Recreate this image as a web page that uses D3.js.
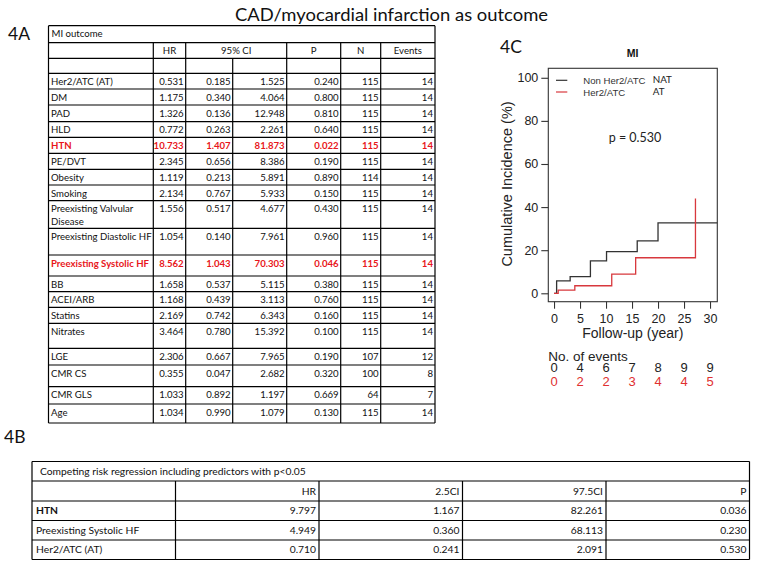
<!DOCTYPE html>
<html><head><meta charset="utf-8">
<script src="https://cdn.jsdelivr.net/npm/d3@7/dist/d3.min.js"></script>
<style>body{margin:0;background:#fff}svg{display:block}</style>
</head><body>
<svg id="fig" width="757" height="567"></svg>
<script>
// ================= DATA =================
const figureTitle = "CAD/myocardial infarction as outcome";
const panelLabels = ["4A", "4B", "4C"];

// 4A: univariable table
const miTableTitle = "MI outcome";
const miHeaders = ["HR", "95% CI", "P", "N", "Events"];
const predictors = ["Her2/ATC (AT)", "DM", "PAD", "HLD", "HTN", "PE/DVT", "Obesity", "Smoking",
  "Preexisting Valvular Disease", "Preexisting Diastolic HF", "Preexisting Systolic HF", "BB",
  "ACEI/ARB", "Statins", "Nitrates", "LGE", "CMR CS", "CMR GLS", "Age"];
const hr = [0.531, 1.175, 1.326, 0.772, 10.733, 2.345, 1.119, 2.134, 1.556, 1.054, 8.562, 1.658, 1.168, 2.169, 3.464, 2.306, 0.355, 1.033, 1.034];
const ciLow = [0.185, 0.340, 0.136, 0.263, 1.407, 0.656, 0.213, 0.767, 0.517, 0.140, 1.043, 0.537, 0.439, 0.742, 0.780, 0.667, 0.047, 0.892, 0.990];
const ciHigh = [1.525, 4.064, 12.948, 2.261, 81.873, 8.386, 5.891, 5.933, 4.677, 7.961, 70.303, 5.115, 3.113, 6.343, 15.392, 7.965, 2.682, 1.197, 1.079];
const pValue = [0.240, 0.800, 0.810, 0.640, 0.022, 0.190, 0.890, 0.150, 0.430, 0.960, 0.046, 0.380, 0.760, 0.160, 0.100, 0.190, 0.320, 0.669, 0.130];
const nPatients = [115, 115, 115, 115, 115, 115, 114, 115, 115, 115, 115, 115, 115, 115, 115, 107, 100, 64, 115];
const nEvents = [14, 14, 14, 14, 14, 14, 14, 14, 14, 14, 14, 14, 14, 14, 14, 12, 8, 7, 14];
const significant = ["HTN", "Preexisting Systolic HF"];

// 4B: competing risk regression
const crTitle = "Competing risk regression including predictors with p<0.05";
const crHeaders = ["HR", "2.5CI", "97.5CI", "P"];
const crPredictors = ["HTN", "Preexisting Systolic HF", "Her2/ATC (AT)"];
const crHR = [9.797, 4.949, 0.710];
const crLow = [1.167, 0.360, 0.241];
const crHigh = [82.261, 68.113, 2.091];
const crP = [0.036, 0.230, 0.530];
const crBold = ["HTN"];

// 4C: cumulative incidence
const plotTitle = "MI";
const groups = ["Non Her2/ATC", "Her2/ATC"];
const groupCodes = ["NAT", "AT"];
const natTime = [0, 0.5, 3.1, 7.0, 10.1, 16.0, 20.0, 31.4];
const natIncidence = [0, 5.8, 7.7, 15.0, 19.3, 24.3, 32.7, 32.7];
const atTime = [0, 0.8, 4.0, 11.1, 15.7, 27.2];
const atIncidence = [0, 1.5, 3.5, 8.9, 16.5, 44.0];
const xTicks = [0, 5, 10, 15, 20, 25, 30];
const yTicks = [0, 20, 40, 60, 80, 100];
const pText = "p = 0.530";
const xLabel = "Follow-up (year)";
const yLabel = "Cumulative Incidence (%)";
const eventsLabel = "No. of events";
const eventTimes = [0, 5, 10, 15, 20, 25, 30];
const natEventCounts = [0, 4, 6, 7, 8, 9, 9];
const atEventCounts = [0, 2, 2, 3, 4, 4, 5];

// ================= STYLE / LAYOUT =================
const svg = d3.select("#fig");
const TFONT = "Lato, 'Open Sans', sans-serif";
const AFONT = "'Liberation Sans', Arial, sans-serif";
const INK = "#111";
const RED = "#e8161b";
const LINE_RED = "#d8383d";
const LINE_DARK = "#333";
const f3 = d3.format(".3f");

// figure title
svg.append("text").attr("x", 391.5).attr("y", 20.5).attr("text-anchor", "middle")
  .attr("font-family", TFONT).attr("font-size", 18).attr("fill", INK)
  .attr("textLength", 313).attr("lengthAdjust", "spacingAndGlyphs").text(figureTitle);

// panel labels
const panelPos = [[8, 39.5], [4, 443], [500, 53]];
panelLabels.forEach((t, i) => svg.append("text").attr("x", panelPos[i][0]).attr("y", panelPos[i][1])
  .attr("font-family", TFONT).attr("font-size", 17.5).attr("fill", INK).text(t));

function line(g, x1, y1, x2, y2, w) {
  g.append("line").attr("x1", x1).attr("y1", y1).attr("x2", x2).attr("y2", y2)
    .attr("stroke", "#000").attr("stroke-width", w || 1.2);
}

// ================= TABLE 4A =================
(function () {
  const g = svg.append("g");
  const colX = [48.5, 153.3, 185.7, 232.7, 286.7, 340.7, 380.7, 435];
  const topRowsH = [17, 15.6, 15];
  const dataRowsH = [15.7, 16, 16.7, 15.6, 16, 16, 15.7, 15.7, 27.6, 26.7, 21, 15.7, 15.6, 16, 25, 16.7, 21.7, 17.3, 19];
  const heights = topRowsH.concat(dataRowsH);
  const edges = [25.7].concat(Array.from(d3.cumsum(heights), v => 25.7 + v));
  const fs = 9.6;

  edges.forEach(y => line(g, colX[0], y, colX[7], y));
  line(g, colX[0], edges[0], colX[0], edges[edges.length - 1]);
  line(g, colX[7], edges[0], colX[7], edges[edges.length - 1]);
  for (let r = 1; r < heights.length; r++) {
    for (let c = 1; c < 7; c++) {
      if (r === 1 && c === 3) continue;
      line(g, colX[c], edges[r], colX[c], edges[r + 1]);
    }
  }
  const txt = (x, y, s, anchor, color, bold) => g.append("text").attr("x", x).attr("y", y)
    .attr("text-anchor", anchor || "start").attr("font-family", TFONT).attr("font-size", fs)
    .attr("font-weight", bold ? 700 : 400).attr("fill", color || INK).text(s);

  txt(colX[0] + 3, edges[0] + 11.5, miTableTitle);
  const headCenters = [(colX[1] + colX[2]) / 2, (colX[2] + colX[4]) / 2, (colX[4] + colX[5]) / 2,
    (colX[5] + colX[6]) / 2, (colX[6] + colX[7]) / 2];
  miHeaders.forEach((h, i) => txt(headCenters[i], edges[1] + 11, h, "middle"));

  predictors.forEach((p, i) => {
    const top = edges[i + 3];
    const sig = significant.includes(p);
    const color = sig ? RED : INK;
    const by = top + 11.5;
    const t = txt(colX[0] + 2.5, by, "", "start", color, sig);
    const words = p.split(" ");
    let cur = [], ln = 0;
    let ts = t.append("tspan").attr("x", colX[0] + 2.5).attr("y", by);
    words.forEach(w => {
      cur.push(w);
      ts.text(cur.join(" "));
      if (ts.node().getComputedTextLength() > colX[1] - colX[0] - 3 && cur.length > 1) {
        cur.pop(); ts.text(cur.join(" "));
        cur = [w]; ln++;
        ts = t.append("tspan").attr("x", colX[0] + 2.5).attr("y", by + ln * 12.4).text(w);
      }
    });
    const vals = [f3(hr[i]), f3(ciLow[i]), f3(ciHigh[i]), f3(pValue[i]), String(nPatients[i]), String(nEvents[i])];
    vals.forEach((v, k) => txt(colX[k + 2] - 2, by, v, "end", color, sig));
  });
})();

// ================= TABLE 4B =================
(function () {
  const g = svg.append("g");
  const colX = [32, 175.5, 319, 462.5, 606, 749.5];
  const edges = [461.5, 481, 501, 520.5, 540, 559.5];
  const fs = 10.3;
  edges.forEach(y => line(g, colX[0], y, colX[5], y));
  line(g, colX[0], edges[0], colX[0], edges[5]);
  line(g, colX[5], edges[0], colX[5], edges[5]);
  for (let r = 1; r < 5; r++) for (let c = 1; c < 5; c++) line(g, colX[c], edges[r], colX[c], edges[r + 1]);
  const txt = (x, y, s, anchor, bold) => g.append("text").attr("x", x).attr("y", y)
    .attr("text-anchor", anchor || "start").attr("font-family", TFONT).attr("font-size", fs)
    .attr("font-weight", bold ? 700 : 400).attr("fill", INK).text(s);
  txt(40, edges[0] + 13, crTitle);
  crHeaders.forEach((h, i) => txt(colX[i + 2] - 3, edges[1] + 13.5, h, "end"));
  crPredictors.forEach((p, i) => {
    const by = edges[i + 2] + 13.3;
    txt(36, by, p, "start", crBold.includes(p));
    [crHR[i], crLow[i], crHigh[i], crP[i]].forEach((v, k) => txt(colX[k + 2] - 3, by, f3(v), "end"));
  });
})();

// ================= PLOT 4C =================
(function () {
  const g = svg.append("g");
  const box = { l: 548.3, t: 68.3, r: 717.3, b: 301.7 };
  const x = d3.scaleLinear().domain([-1.1, 31.4]).range([box.l, box.r]);
  const y = d3.scaleLinear().domain([-3.9, 104.4]).range([box.b, box.t]);

  const stepLine = d3.line().x(d => x(d[0])).y(d => y(d[1])).curve(d3.curveStepAfter);
  g.append("path").attr("d", stepLine(natTime.map((t, i) => [t, natIncidence[i]])))
    .attr("fill", "none").attr("stroke", LINE_DARK).attr("stroke-width", 1.3);
  g.append("path").attr("d", stepLine(atTime.map((t, i) => [t, atIncidence[i]])))
    .attr("fill", "none").attr("stroke", LINE_RED).attr("stroke-width", 1.3);

  g.append("rect").attr("x", box.l).attr("y", box.t).attr("width", box.r - box.l).attr("height", box.b - box.t)
    .attr("fill", "none").attr("stroke", LINE_DARK).attr("stroke-width", 1.1);

  const ya = g.append("g").attr("transform", `translate(${box.l},0)`)
    .call(d3.axisLeft(y).tickValues(yTicks).tickSize(7).tickPadding(3));
  const xa = g.append("g").attr("transform", `translate(0,${box.b})`)
    .call(d3.axisBottom(x).tickValues(xTicks).tickSize(7).tickPadding(5));
  [ya, xa].forEach(a => {
    a.select(".domain").remove();
    a.selectAll("line").attr("stroke", LINE_DARK).attr("stroke-width", 1.1);
    a.selectAll("text").attr("font-family", AFONT).attr("font-size", 12.5).attr("fill", "#222");
  });

  g.append("text").attr("x", (box.l + box.r) / 2).attr("y", 337.5).attr("text-anchor", "middle")
    .attr("font-family", AFONT).attr("font-size", 14).attr("fill", "#222").text(xLabel);
  g.append("text").attr("transform", "translate(511.5,184) rotate(-90)").attr("text-anchor", "middle")
    .attr("font-family", AFONT).attr("font-size", 14.5).attr("fill", "#222").text(yLabel);
  g.append("text").attr("x", 632.7).attr("y", 57).attr("text-anchor", "middle")
    .attr("font-family", AFONT).attr("font-size", 10.5).attr("font-weight", 700).attr("fill", "#111").text(plotTitle);

  const legColors = [LINE_DARK, LINE_RED];
  const legY = [80.3, 92];
  groups.forEach((name, i) => {
    g.append("line").attr("x1", 556).attr("x2", 567.3).attr("y1", legY[i]).attr("y2", legY[i])
      .attr("stroke", legColors[i]).attr("stroke-width", 1.2);
    g.append("text").attr("x", 583.3).attr("y", legY[i] + 3.5).attr("font-family", AFONT)
      .attr("font-size", 9.6).attr("fill", "#333").text(name);
    g.append("text").attr("x", 652.7).attr("y", legY[i] + 2.5).attr("font-family", TFONT)
      .attr("font-size", 9.8).attr("fill", "#222").text(groupCodes[i]);
  });

  g.append("text").attr("x", 635).attr("y", 141.5).attr("text-anchor", "middle")
    .attr("font-family", TFONT).attr("font-size", 12.5).attr("fill", "#222").text(pText);

  // number of events (tightly stacked as in the reference)
  g.append("text").attr("x", box.l).attr("y", 361).attr("font-family", AFONT)
    .attr("font-size", 13.5).attr("fill", "#222").text(eventsLabel);
  eventTimes.forEach((t, i) => {
    g.append("text").attr("x", x(t)).attr("y", 372).attr("text-anchor", "middle")
      .attr("font-family", AFONT).attr("font-size", 13).attr("fill", "#222").text(natEventCounts[i]);
    g.append("text").attr("x", x(t)).attr("y", 385.5).attr("text-anchor", "middle")
      .attr("font-family", AFONT).attr("font-size", 13).attr("fill", "#e03030").text(atEventCounts[i]);
  });
})();
</script>
</body></html>
